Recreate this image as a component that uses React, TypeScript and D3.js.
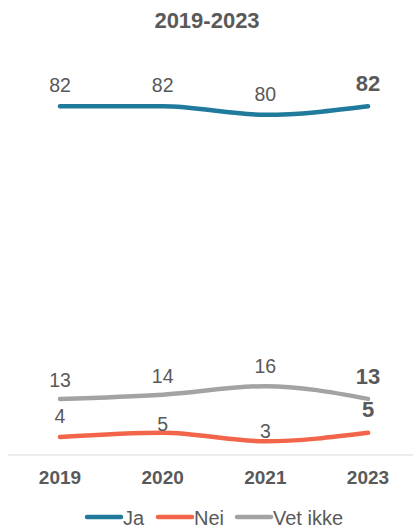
import React from "react";
import * as d3 from "d3";

const years = ["2019", "2020", "2021", "2023"];
const ja = [82, 82, 80, 82];
const nei = [4, 5, 3, 5];
const vetIkke = [13, 14, 16, 13];
const seriesNames = ["Ja", "Nei", "Vet ikke"];
const title = "2019-2023";

const W = 413;
const H = 529;
const colors = ["#1f7a9c", "#f2654a", "#a3a3a3"];
const textColor = "#595959";
const font = "'Liberation Sans', Arial, sans-serif";

// label vertical offsets above the point (styling, per series / per point)
const labelOffsets = [
  [14, 14, 14, 15],
  [14, 2, 3, 16],
  [12, 12, 13, 15],
];

export default function App() {
  const series = [ja, nei, vetIkke];
  const x = d3.scalePoint<string>().domain(years).range([60, 368]);
  const y = d3.scaleLinear().domain([0, 100]).range([454, 30]);
  const line = d3
    .line<number>()
    .x((_, i) => x(years[i]) as number)
    .y((d) => y(d))
    .curve(d3.curveMonotoneX);

  const legendX = [87, 158, 237];

  return (
    <div style={{ position: "fixed", left: 0, top: 0 }}>
      <svg width={W} height={H} style={{ display: "block", background: "#fff" }} fontFamily={font}>
        <text x={207} y={28} textAnchor="middle" fontSize={22} fontWeight="bold" fill={textColor}>
          {title}
        </text>
        <line x1={8} x2={413} y1={y(0) + 1} y2={y(0) + 1} stroke="#d9d9d9" strokeWidth={1} />
        {series.map((s, si) => (
          <path
            key={si}
            d={line(s) || ""}
            fill="none"
            stroke={colors[si]}
            strokeWidth={4.5}
            strokeLinecap="round"
          />
        ))}
        {series.map((s, si) =>
          s.map((v, i) => {
            const last = i === s.length - 1;
            return (
              <text
                key={`${si}-${i}`}
                x={x(years[i]) as number}
                y={y(v) - labelOffsets[si][i]}
                textAnchor="middle"
                fontSize={last ? 22 : 19.5}
                fontWeight={last ? "bold" : "normal"}
                fill={textColor}
              >
                {v}
              </text>
            );
          })
        )}
        {years.map((yr) => (
          <text
            key={yr}
            x={x(yr) as number}
            y={484}
            textAnchor="middle"
            fontSize={19}
            fontWeight="bold"
            fill={textColor}
          >
            {yr}
          </text>
        ))}
        {seriesNames.map((n, i) => (
          <g key={n} transform={`translate(${legendX[i]},517)`}>
            <line x1={0} x2={34} y1={0} y2={0} stroke={colors[i]} strokeWidth={4.5} strokeLinecap="round" />
            <text x={36} y={8} fontSize={20} fill={textColor}>
              {n}
            </text>
          </g>
        ))}
      </svg>
    </div>
  );
}
